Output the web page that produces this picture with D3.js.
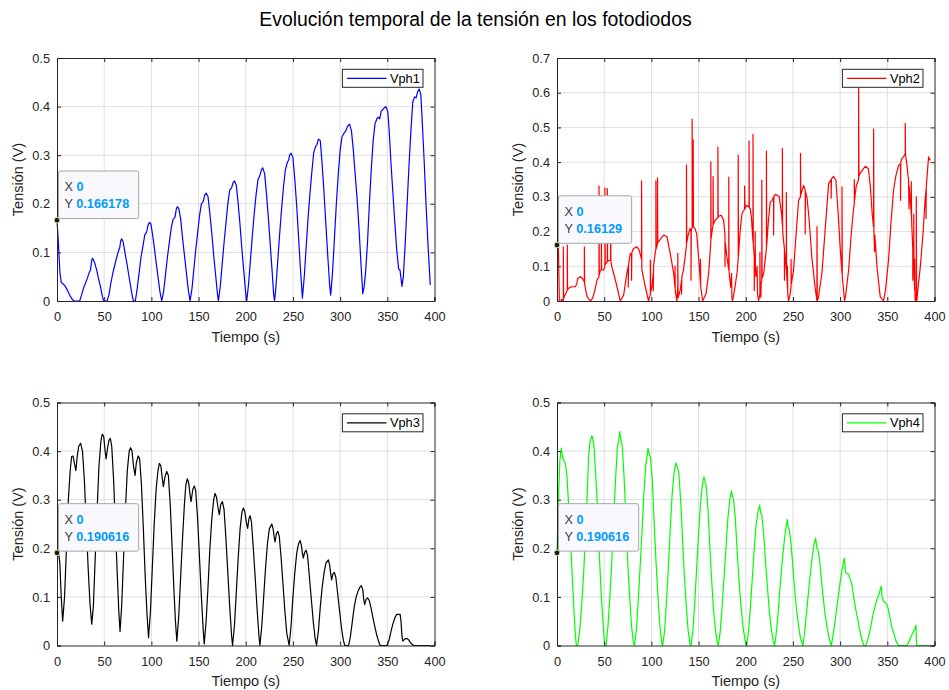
<!DOCTYPE html>
<html>
<head>
<meta charset="utf-8">
<script src="https://cdn.jsdelivr.net/npm/d3@7"></script>
<style>
  html, body { margin: 0; padding: 0; background: #ffffff; }
  svg { display: block; font-family: "Liberation Sans", Arial, Helvetica, sans-serif; }
</style>
</head>
<body>
<svg id="fig" width="949" height="690"></svg>
<script>
// ---- Data: photodiode voltages, [time (s), voltage (V)] ----
const vph1 = [
  [0,0.166],[1.5,0.12],[3,0.06],[4.5,0.038],[6,0.036],[8,0.032],[10,0.026],[12,0.018],[14,0.01],[16,0.004],[18,0],[24,0],
  [26,0.012],[28,0.026],[30,0.036],[32,0.046],[34,0.058],[35.5,0.064],[36.5,0.08],[37.5,0.088],[38.5,0.085],[40,0.078],[42,0.064],[44,0.046],[46,0.03],[48,0.01],[49.5,0],[53,0],
  [55,0.012],[57,0.036],[59,0.056],[61,0.072],[63,0.088],[65,0.102],[66.5,0.11],[67.5,0.124],[68.5,0.128],[70,0.122],[72,0.1],[74,0.078],[76,0.054],[78,0.03],[80,0.008],[81,0],[83,0],
  [85,0.026],[87,0.058],[89,0.09],[91,0.112],[93,0.136],[95,0.142],[96.5,0.156],[98,0.162],[99.5,0.158],[101,0.14],[103,0.112],[105,0.08],[107,0.05],[109,0.02],[111,0],
  [113,0.02],[115,0.055],[117,0.09],[119,0.12],[121,0.15],[123,0.168],[125,0.172],[126.5,0.19],[127.5,0.194],[129,0.19],[131,0.17],[133,0.13],[135,0.095],[137,0.06],[139,0.025],[141,0],
  [143,0.025],[145,0.065],[147,0.105],[149,0.14],[151,0.175],[153,0.2],[155,0.205],[156.5,0.218],[158,0.222],[160,0.215],[162,0.18],[164,0.14],[166,0.095],[168,0.055],[170,0.015],[171,0],
  [173,0.03],[175,0.075],[177,0.12],[179,0.16],[181,0.2],[183,0.228],[185,0.233],[186.5,0.243],[188,0.247],[190,0.238],[192,0.2],[194,0.155],[196,0.105],[198,0.06],[200,0.015],[201,0],
  [203,0.035],[205,0.085],[207,0.135],[209,0.18],[211,0.22],[213,0.25],[215,0.258],[216.5,0.27],[218,0.274],[220,0.262],[222,0.22],[224,0.17],[226,0.115],[228,0.06],[229.5,0.015],[230.5,0],
  [232,0.03],[234,0.085],[236,0.14],[238,0.19],[240,0.235],[242,0.27],[244,0.285],[245.5,0.29],[246.5,0.3],[248,0.304],[250,0.295],[252,0.25],[254,0.195],[256,0.13],[258,0.065],[260,0.006],
  [262,0.05],[264,0.11],[266,0.17],[268,0.22],[270,0.265],[272,0.305],[274,0.318],[275.5,0.322],[277,0.333],[279,0.33],[281,0.28],[283,0.22],[285,0.155],[287,0.09],[289,0.03],[290,0.012],
  [292,0.06],[294,0.13],[296,0.2],[298,0.26],[300,0.31],[302,0.338],[304,0.345],[306,0.35],[308,0.36],[310,0.364],[312,0.35],[314,0.31],[316,0.26],[318,0.21],[320,0.15],[322,0.08],[324,0.015],[325.5,0.03],
  [327,0.06],[329,0.12],[331,0.2],[333,0.27],[335,0.33],[337,0.365],[339,0.375],[340.5,0.378],[342,0.375],[343.5,0.39],[346,0.396],[348.5,0.4],[350.5,0.39],[352,0.35],[354,0.28],[356,0.22],[358,0.16],[360,0.105],[362,0.066],[363.5,0.063],[365.5,0.03],[367,0.05],
  [369,0.12],[371,0.2],[373,0.28],[375,0.35],[377,0.41],[379,0.42],[380.5,0.418],[382,0.43],[383.8,0.436],[385.5,0.425],[387,0.37],[389,0.29],[391,0.2],[393,0.12],[395.5,0.033]
];

const vph2 = [
  [0,0.161],[1.5,0.155],[2.5,0],[4,0],[5,0.005],[6.7,0],[6.7,0.156],[7,0.008],[9,0.02],[10.9,0.03],[10.9,0.161],[11.2,0.034],[12.4,0.036],[14,0.04],[16,0.041],[19.4,0.041],
  [21,0.05],[22,0.065],[24.7,0.07],[27,0.065],[29,0.055],[29,0.156],[29.3,0.05],[30.5,0.03],[32,0.012],[35.3,0],[37.8,0.008],[40,0.03],[42.4,0.06],
  [44.5,0.07],[44.5,0.331],[44.8,0.075],[46,0.089],[47,0.09],[47,0.2],[47.3,0.09],[49.4,0.089],[50.8,0.1],[50.8,0.326],[51.1,0.105],[52.3,0.11],
  [53.3,0.113],[53.3,0.324],[53.6,0.115],[56.5,0.118],[56.8,0.118],[56.8,0.272],[57.1,0.115],[58,0.1],[60,0.08],[63.6,0.041],[67,0],[70.6,0.017],[74,0.08],
  [75.5,0.1],[75.5,0.04],[75.8,0.105],[77.7,0.137],[79,0.13],[79,0.06],[79.3,0.14],[81,0.151],[84.7,0.156],[87,0.147],[89.6,0.12],[89.6,0.346],[89.9,0.1],[90,0.089],[93.6,0.041],[97,0],
  [98.9,0.02],[98.9,0.118],[99.2,0.025],[100.6,0.041],[102,0.08],[102,0.03],[102.3,0.1],[104,0.137],[104.8,0.15],[104.8,0.346],[105.1,0.15],[106.5,0.165],[106.5,0.355],[106.8,0.168],
  [107.7,0.171],[110,0.18],[113,0.19],[116.5,0.185],[120,0.137],[123.6,0.08],[125,0.04],[125,0.1],[125.3,0.03],[127,0],[128,0.04],[128,0.137],[128.3,0.01],[130.6,0.032],[132,0.06],[132,0.02],[132.3,0.07],[134,0.089],
  [137.2,0.16],[137.2,0.392],[137.5,0.168],[139,0.19],[141,0.209],[142,0.2],[142,0.06],[142.3,0.205],[143.2,0.21],[143.2,0.524],[143.5,0.212],[144.3,0.214],[144.3,0.464],[144.6,0.214],
  [146,0.21],[148,0.194],[150.8,0.099],[152,0.05],[152,0.12],[152.3,0.04],[154.3,0],[156,0.01],[158,0.022],[160.7,0.08],[163,0.17],[163,0.401],[163.3,0.18],[165,0.214],[165.4,0.216],[165.4,0.358],[165.7,0.22],
  [167,0.23],[169.5,0.238],[170.5,0.24],[170.5,0.443],[170.8,0.242],[172,0.245],[174,0.247],[176.5,0.233],[178,0.19],[178,0.1],[178.3,0.17],[180,0.127],[182,0.09],[182,0.357],[182.3,0.085],[184,0.04],[185,0.08],[185.3,0.01],[186,0],
  [188,0.03],[190.7,0.08],[192,0.12],[192,0.42],[192.3,0.13],[194,0.2],[196,0.252],[198.8,0.265],[198.8,0.331],[199.1,0.266],[201,0.276],[203.5,0.27],[203.5,0.461],[203.8,0.268],[204.8,0.266],
  [206,0.24],[207.7,0.17],[207.7,0.48],[208,0.16],[209,0.13],[209,0.03],[209.3,0.12],[210,0.09],[210,0.2],[210.3,0.08],[211,0.07],[212,0.1],[212.5,0.02],[213.6,0],[215,0.02],[215,0.14],[215.3,0.03],[216,0.05],[216,0.01],[216.3,0.05],[217,0.06],[217,0.348],[217.3,0.065],
  [219,0.08],[221.9,0.15],[221.9,0.432],[222.2,0.16],[224,0.23],[226,0.285],[228,0.29],[229.5,0.3],[229.5,0.19],[229.8,0.3],[231,0.307],[233,0.305],[235.5,0.3],[238,0.25],[238.8,0.22],[238.8,0.44],[239.1,0.2],
  [240,0.175],[241,0.15],[241,0.06],[241.3,0.14],[242,0.12],[243,0.09],[243,0.313],[243.3,0.08],[244.2,0.04],[244.2,0.1],[244.5,0.02],[245.4,0],[247,0.02],[248,0.04],[248,0.12],[248.3,0.05],[250.7,0.089],[253,0.18],[256,0.29],[258,0.3],[258,0.425],[258.3,0.305],
  [261.3,0.333],[263,0.32],[263,0.194],[263.3,0.315],[264.8,0.3],[267,0.24],[270,0.127],[273,0.05],[275.4,0],[275.5,0.214],[275.8,0],[277,0.01],[280.7,0.08],[284,0.2],[287.8,0.338],
  [290.5,0.35],[290.5,0.296],[290.8,0.352],[293,0.359],[295.5,0.348],[298,0.25],[300,0.156],[302,0.08],[302,0.329],[302.3,0.07],[304.7,0],[306,0.02],[309,0.089],[312,0.2],[314,0.26],
  [315,0.28],[315,0.35],[315.3,0.29],[317,0.33],[319.6,0.35],[319.6,0.613],[319.9,0.36],[321,0.367],[323,0.375],[326.6,0.388],[330,0.381],[332,0.33],[334,0.25],[335.4,0.214],[335.5,0.495],[335.8,0.2],
  [336.5,0.142],[336.8,0.19],[339,0.1],[342.5,0.012],[346,0],[348,0.03],[351.3,0.118],[354,0.23],[356.6,0.319],[359,0.36],[362,0.391],[364,0.395],[364,0.29],[364.3,0.4],[365.4,0.41],
  [367,0.415],[369,0.424],[369,0.512],[369.3,0.42],[370.5,0.4],[372.5,0.348],[373,0.266],[373.3,0.33],[375.4,0.25],[375.4,0.344],[375.7,0.24],[376,0.214],[377,0.15],[377,0.06],[377.3,0.14],[378,0.1],[378,0.25],[378.3,0.08],
  [379,0.03],[379,0.12],[379.3,0.02],[379.6,0],[380.7,0.02],[380.7,0.3],[381,0.01],[381.3,0],[383,0.05],[385,0.099],[388,0.2],[390,0.29],[391,0.32],[391,0.238],[391.3,0.33],[393.7,0.415],[395.5,0.405]
];

const vph3 = [
  [0,0.19],[2,0.185],[3,0.17],[4.5,0.1],[6,0.05],[8,0.1],[10,0.2],[12,0.3],[14,0.36],[15.5,0.389],[17,0.39],[18.5,0.375],[20,0.36],[21.5,0.39],[23,0.41],[25,0.416],[27,0.4],[29,0.34],[31,0.25],[33,0.16],[35,0.085],[36.8,0.044],
  [38.5,0.08],[40.5,0.18],[42.5,0.28],[44.5,0.37],[46.5,0.42],[48,0.435],[49.5,0.43],[51,0.4],[52,0.384],[53.5,0.405],[55,0.422],[56.5,0.426],[58,0.41],[60,0.34],[62,0.24],[64,0.14],[65.5,0.07],[66.8,0.029],
  [68.5,0.08],[70.5,0.18],[72.5,0.28],[74.5,0.36],[76.5,0.4],[78,0.407],[79.5,0.4],[81,0.37],[82.7,0.35],[84,0.375],[86,0.39],[87.5,0.385],[89.5,0.33],[91.5,0.24],[93.5,0.14],[95.5,0.06],[97,0.016],
  [99,0.07],[101,0.16],[103,0.25],[105,0.32],[107,0.36],[108.5,0.375],[110,0.37],[111.5,0.345],[112.7,0.327],[114.5,0.348],[116.3,0.358],[118,0.35],[120,0.29],[122,0.2],[124,0.11],[125.5,0.05],[127,0.009],
  [129,0.06],[131,0.14],[133,0.22],[135,0.29],[136.5,0.33],[138,0.343],[139.5,0.335],[141,0.31],[142,0.296],[144,0.322],[145.6,0.328],[147,0.318],[149,0.26],[151,0.18],[153,0.1],[155,0.03],[156,0.003],
  [158,0.05],[160,0.12],[162,0.2],[164,0.26],[166,0.3],[167.5,0.313],[169,0.305],[170.5,0.285],[172,0.269],[173.5,0.29],[175.3,0.296],[177,0.28],[179,0.22],[181,0.15],[183,0.08],[185,0.02],[186,0],
  [188,0.04],[190,0.11],[192,0.18],[194,0.24],[196,0.275],[197.5,0.283],[199,0.275],[200.5,0.255],[202,0.241],[203.5,0.262],[204.6,0.267],[206,0.255],[208,0.2],[210,0.14],[212,0.075],[214,0.02],[215,0],
  [217,0.04],[219,0.1],[221,0.16],[223,0.21],[225,0.24],[227.6,0.25],[229,0.24],[230,0.225],[231,0.213],[232.5,0.23],[234,0.235],[235.5,0.225],[237.5,0.18],[239.5,0.125],[241.5,0.07],[243.5,0.025],[246,0],
  [248,0.04],[250,0.1],[252,0.15],[254,0.19],[256,0.21],[257.6,0.216],[259,0.205],[260,0.19],[261,0.18],[262.5,0.192],[264,0.196],[265.5,0.185],[267.5,0.14],[269.5,0.095],[271.5,0.05],[273.5,0.015],[275,0],
  [277,0.03],[279,0.08],[281,0.12],[283,0.15],[285,0.17],[287.6,0.176],[289,0.165],[290,0.148],[291,0.135],[292.5,0.148],[294,0.15],[295.5,0.14],[297.5,0.105],[299.5,0.07],[301.5,0.035],[303.5,0.01],[305,0],[309,0],
  [311,0.02],[313,0.05],[315,0.08],[317,0.1],[319,0.112],[321,0.12],[322.5,0.123],[324,0.115],[325,0.095],[326,0.084],[327.5,0.095],[329,0.098],[331,0.092],[333,0.075],[335,0.055],[337,0.037],[339,0.02],[341,0.007],[342.5,0],[349.5,0],
  [352,0.012],[354,0.03],[356,0.045],[358,0.057],[360,0.064],[363.6,0.064],[364.5,0.05],[365.5,0.02],[366.5,0.009],[368,0.012],[369,0.014],[371,0.014],[372.5,0.012],[374.5,0.006],[376.5,0.002],[378,0],[395.5,0]
];

const vph4 = [
  [0,0.19],[1.5,0.3],[3,0.38],[4.6,0.406],[6,0.385],[8.8,0.375],[10.5,0.35],[12,0.3],[14,0.228],[16,0.15],[18,0.07],[19.5,0.02],[20.5,0],[22,0],
  [24,0.03],[26,0.08],[28,0.14],[30,0.22],[32,0.31],[33.5,0.39],[35,0.42],[37,0.432],[38.5,0.42],[39.5,0.402],[41,0.35],[43,0.28],[45,0.18],[47,0.1],[49,0.04],[50.5,0],[52,0],
  [54,0.04],[56,0.1],[58,0.17],[60,0.26],[62,0.34],[64,0.41],[65.5,0.42],[66.4,0.44],[68,0.42],[69,0.412],[71,0.35],[73,0.26],[75,0.17],[77,0.1],[79,0.04],[81,0.005],[82,0],
  [84,0.03],[86,0.09],[88,0.16],[90,0.23],[92,0.31],[94,0.37],[95.5,0.39],[96.4,0.406],[97.5,0.395],[99,0.388],[101,0.34],[103,0.25],[105,0.17],[107,0.1],[109,0.04],[111,0.005],[112,0],
  [114,0.03],[116,0.09],[118,0.16],[120,0.24],[122,0.31],[124,0.355],[126,0.376],[127.5,0.365],[129,0.358],[131,0.3],[133,0.22],[135,0.14],[137,0.08],[139,0.03],[141,0.003],[142,0],
  [144,0.03],[146,0.09],[148,0.16],[150,0.23],[152,0.29],[154,0.33],[155.7,0.347],[157,0.335],[158,0.33],[160,0.28],[162,0.2],[164,0.13],[166,0.07],[168,0.03],[170,0.005],[171,0],
  [173,0.03],[175,0.08],[177,0.14],[179,0.2],[181,0.26],[183,0.3],[185,0.318],[186,0.305],[187,0.302],[189,0.26],[191,0.19],[193,0.13],[195,0.08],[197,0.04],[199.5,0.008],[201,0],
  [203,0.03],[205,0.08],[207,0.14],[209,0.2],[211,0.25],[213,0.275],[214.7,0.289],[216,0.272],[217,0.269],[219,0.23],[221,0.17],[223,0.12],[225,0.07],[227,0.035],[229,0.01],[230.6,0],
  [232,0.02],[234,0.06],[236,0.11],[238,0.16],[240,0.2],[242,0.235],[244,0.259],[245,0.242],[246,0.24],[248,0.21],[250,0.16],[252,0.11],[254,0.07],[256,0.04],[258,0.015],[260.6,0],
  [262,0.02],[264,0.06],[266,0.1],[268,0.14],[270,0.175],[272,0.205],[274,0.221],[275.5,0.2],[276.5,0.197],[278,0.18],[280,0.14],[282,0.1],[284,0.065],[286,0.04],[288,0.018],[290.6,0],
  [292,0.015],[294,0.04],[296,0.07],[298,0.1],[300,0.13],[302,0.155],[304.4,0.18],[305.5,0.155],[306,0.15],[309,0.146],[311,0.135],[312.5,0.125],[314,0.105],[316,0.08],[318,0.06],[320,0.04],[322,0.02],[325,0],[327,0],
  [329,0.01],[331,0.025],[333,0.045],[335,0.065],[337,0.08],[339,0.095],[341,0.105],[343.6,0.122],[344.5,0.1],[346,0.091],[348,0.088],[349.6,0.084],[351,0.075],[352.5,0.06],[355,0.036],[357,0.025],[359,0.01],[362,0],[370.8,0],
  [373,0.008],[375,0.018],[377,0.026],[379,0.033],[380.3,0.042],[381,0],[395.5,0]
];

// Axis ticks and labels
const xTicks = [0, 50, 100, 150, 200, 250, 300, 350, 400];
const yTicks1 = [0, 0.1, 0.2, 0.3, 0.4, 0.5];
const yTicks2 = [0, 0.1, 0.2, 0.3, 0.4, 0.5, 0.6, 0.7];
const seriesNames = ["Vph1", "Vph2", "Vph3", "Vph4"];
const seriesColors = ["#0000ff", "#ff0000", "#000000", "#00ff00"];
const tipValues = [0.166178, 0.16129, 0.190616, 0.190616];
const tipLabels = ["0.166178", "0.16129", "0.190616", "0.190616"];

const figTitle = "Evolución temporal de la tensión en los fotodiodos";
const xLabel = "Tiempo (s)";
const yLabel = "Tensión (V)";

// ---- Drawing ----
const svg = d3.select("#fig");
const AX = "#262626";
const GRID = "#dfdfdf";
const FONT_TICK = 12.8;

svg.append("text")
  .attr("x", 475.5).attr("y", 25.7)
  .attr("text-anchor", "middle")
  .attr("font-size", 19.4)
  .attr("fill", "#000")
  .text(figTitle);

const panels = [
  { data: vph1, yMax: 0.5, yTicks: yTicks1, left: 57,  top: 58 },
  { data: vph2, yMax: 0.7, yTicks: yTicks2, left: 557, top: 58 },
  { data: vph3, yMax: 0.5, yTicks: yTicks1, left: 57,  top: 402.5 },
  { data: vph4, yMax: 0.5, yTicks: yTicks1, left: 557, top: 402.5 }
];
const W = 377.5, H = 243;
const fmt = d => (d === 0 ? "0" : d3.format(".1f")(d));

panels.forEach((p, i) => {
  const g = svg.append("g").attr("transform", `translate(${p.left},${p.top})`);
  const x = d3.scaleLinear().domain([0, 400]).range([0, W]);
  const y = d3.scaleLinear().domain([0, p.yMax]).range([H, 0]);

  g.append("rect").attr("width", W).attr("height", H).attr("fill", "#fff");

  // grid
  g.append("g").selectAll("line").data(xTicks.slice(1, -1)).join("line")
    .attr("x1", d => x(d)).attr("x2", d => x(d)).attr("y1", 0).attr("y2", H)
    .attr("stroke", GRID).attr("stroke-width", 1);
  g.append("g").selectAll("line").data(p.yTicks.slice(1, -1)).join("line")
    .attr("y1", d => y(d)).attr("y2", d => y(d)).attr("x1", 0).attr("x2", W)
    .attr("stroke", GRID).attr("stroke-width", 1);

  // series line
  const line = d3.line().x(d => x(d[0])).y(d => y(d[1]));
  g.append("path").datum(p.data)
    .attr("d", line)
    .attr("fill", "none")
    .attr("stroke", seriesColors[i])
    .attr("stroke-width", 1.2)
    .attr("stroke-linejoin", "round");

  // axes with inward ticks on all four sides
  const tickLen = 4;
  const axB = d3.axisBottom(x).tickValues(xTicks).tickSize(-tickLen).tickPadding(11).tickFormat(d3.format("d"));
  const axT = d3.axisTop(x).tickValues(xTicks).tickSize(-tickLen).tickFormat("");
  const axL = d3.axisLeft(y).tickValues(p.yTicks).tickSize(-tickLen).tickPadding(7).tickFormat(fmt);
  const axR = d3.axisRight(y).tickValues(p.yTicks).tickSize(-tickLen).tickFormat("");

  const styleAxis = sel => {
    sel.select(".domain").attr("stroke", AX).attr("stroke-width", 1);
    sel.selectAll(".tick line").attr("stroke", AX).attr("stroke-width", 1);
    sel.selectAll(".tick text").attr("fill", AX).attr("font-size", FONT_TICK)
      .attr("font-family", "Liberation Sans, Arial, sans-serif");
  };
  g.append("g").attr("transform", `translate(0,${H})`).call(axB).call(styleAxis);
  g.append("g").call(axT).call(styleAxis);
  g.append("g").call(axL).call(styleAxis);
  g.append("g").attr("transform", `translate(${W},0)`).call(axR).call(styleAxis);

  // axis labels
  g.append("text")
    .attr("x", W / 2).attr("y", H + 40.5)
    .attr("text-anchor", "middle").attr("font-size", 14.5).attr("fill", AX)
    .text(xLabel);
  g.append("text")
    .attr("transform", `translate(-34.5,${H / 2}) rotate(-90)`)
    .attr("text-anchor", "middle").attr("font-size", 14.5).attr("fill", AX)
    .text(yLabel);

  // legend
  const lw = 80.6, lh = 18;
  const lg = g.append("g").attr("transform", `translate(${W - 11.5 - lw},11.3)`);
  lg.append("rect").attr("width", lw).attr("height", lh)
    .attr("fill", "#fff").attr("stroke", AX).attr("stroke-width", 1);
  lg.append("line").attr("x1", 4.5).attr("x2", 44).attr("y1", lh / 2).attr("y2", lh / 2)
    .attr("stroke", seriesColors[i]).attr("stroke-width", 1.2);
  lg.append("text").attr("x", 47.5).attr("y", lh / 2 + 4.4)
    .attr("font-size", 12.8).attr("fill", "#000").text(seriesNames[i]);

  // data tip at the first sample
  const px = x(p.data[0][0]), py = y(tipValues[i]);
  const tip = g.append("g");
  const box = tip.append("rect")
    .attr("x", px + 1.5).attr("y", py - 49.2).attr("height", 47.5)
    .attr("rx", 2).attr("ry", 2)
    .attr("fill", "#f9f9fd").attr("stroke", "#a6a6a6").attr("stroke-width", 1);
  const t1 = tip.append("text").attr("x", px + 7.5).attr("y", py - 29).attr("font-size", 12.7);
  t1.append("tspan").attr("fill", "#404040").text("X ");
  t1.append("tspan").attr("fill", "#0099ff").attr("font-weight", "bold").text(String(p.data[0][0]));
  const t2 = tip.append("text").attr("x", px + 7.5).attr("y", py - 12).attr("font-size", 12.7);
  t2.append("tspan").attr("fill", "#404040").text("Y ");
  t2.append("tspan").attr("fill", "#0099ff").attr("font-weight", "bold").text(tipLabels[i]);
  const bb = t2.node().getBBox();
  box.attr("width", bb.x + bb.width + 9.5 - (px + 1.5));
  tip.append("circle").attr("cx", px).attr("cy", py).attr("r", 2.8)
    .attr("fill", "#1a1a1a").attr("stroke", "#d9d2a6").attr("stroke-width", 1);
});
</script>
</body>
</html>
